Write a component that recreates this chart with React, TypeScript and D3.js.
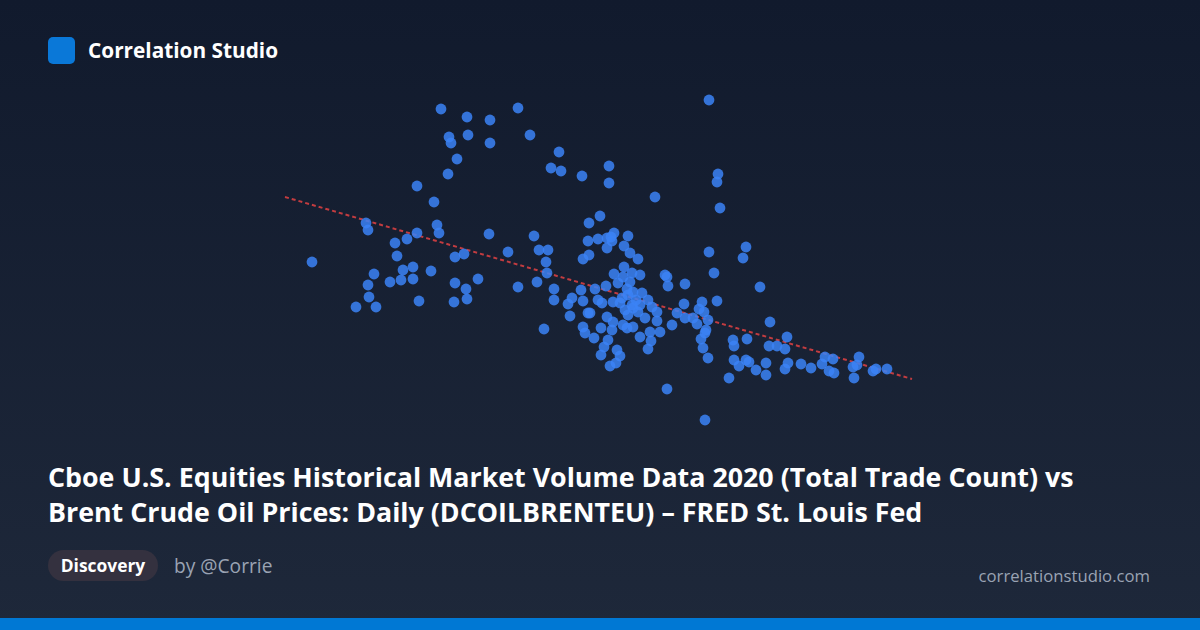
import React from "react";
import * as d3 from "d3";

// Brent crude price (USD/bbl)
const brentPrice: number[] = [
  25.6, 26.4, 26.6, 26.3, 23.2, 24.9, 18.1, 18.3, 25.2, 25.4, 23.2, 22.2, 21.0, 21.2, 12.7,
  28.2, 30.5, 33.3, 28.3, 30.5, 34.5, 37.4, 27.2, 36.6, 37.6, 39.7, 42.4, 42.4, 41.5, 40.4,
  30.4, 34.9, 40.3, 41.3, 42.2, 42.2, 32.3, 35.4, 36.3, 40.4, 27.0, 27.9, 39.8, 36.1, 52.4,
  53.3, 53.2, 47.0, 53.5, 42.9, 42.6, 42.7, 44.3, 43.9, 44.5, 45.3, 52.4, 56.1, 55.8,
  18.9, 18.3, 18.4, 17.1, 19.1, 20.5, 21.6, 21.8, 22.8, 22.8, 24.6, 23.4, 27.0, 26.9, 28.1,
  29.3, 28.2, 33.3, 35.2, 36.2, 36.9, 36.9, 39.6, 38.7, 38.3, 39.8, 38.5, 40.3, 35.9, 39.8, 40.0,
  43.9, 42.9, 43.8, 44.7, 45.5, 48.0, 48.3, 48.2, 50.0, 42.1, 41.0, 43.3, 44.2, 44.8, 45.7,
  44.5, 41.3, 41.7, 42.8, 43.5, 46.3, 46.7, 47.2, 44.8, 45.3, 44.3, 46.0, 47.2, 40.5, 42.2,
  42.8, 43.8, 44.8, 40.9, 41.6, 42.7, 44.2, 46.5, 47.5, 45.5, 46.6, 48.7, 49.2, 49.9, 50.0,
  42.3, 41.9, 43.2, 41.6, 43.5, 42.5, 43.1, 46.3, 44.3, 45.1, 44.7, 43.7, 45.5, 44.0,
  52.9, 57.5, 51.7, 53.2, 51.4, 51.9, 50.8, 52.3, 51.2, 52.1, 52.0, 51.6, 51.8, 52.3, 58.5,
  54.8, 54.9, 56.2, 58.4, 59.2, 60.0, 60.2, 54.9, 55.4, 56.1, 56.4, 57.1, 58.1, 58.1, 60.3,
  60.0, 54.4, 52.0, 61.6, 62.6, 63.7, 64.0, 64.8, 64.4, 64.9, 67.4, 67.2, 66.8, 66.9, 68.8,
  69.1, 70.2, 48.2,
];

// Cboe total trade count (millions)
const tradeCount: number[] = [
  39.1, 36.3, 35.7, 32.6, 31.4, 29.8, 27.7, 27.0, 27.5, 26.7, 26.7, 26.1, 25.7, 24.4, 23.8,
  38.3, 38.0, 39.2, 36.5, 35.7, 36.5, 34.8, 34.1, 33.2, 32.9, 32.4, 33.4, 31.7, 28.4, 27.7,
  26.6, 26.4, 25.9, 26.1, 26.2, 25.2, 24.8, 25.0, 25.0, 24.5, 24.3, 24.6, 24.1, 23.8, 40.0,
  32.6, 31.8, 30.3, 29.2, 26.7, 26.3, 25.9, 26.4, 25.4, 24.7, 24.1, 24.8, 25.3, 24.2,
  22.6, 21.5, 20.3, 19.3, 19.3, 21.8, 22.0, 23.0, 23.3, 22.1, 22.9, 19.9, 21.7, 19.8, 21.1,
  22.1, 20.1, 21.3, 21.8, 22.7, 21.1, 20.0, 21.0, 20.2, 19.6, 19.9, 18.4, 18.7, 17.1, 17.3, 16.7,
  23.3, 22.6, 22.3, 22.7, 22.5, 22.5, 21.4, 22.3, 21.6, 21.4, 21.1, 21.7, 21.1, 20.8, 20.7,
  21.8, 20.0, 19.7, 19.8, 19.7, 20.0, 19.3, 18.8, 19.2, 18.8, 18.5, 18.2, 17.9, 18.7, 18.3,
  17.8, 17.5, 17.3, 16.2, 17.2, 17.0, 17.2, 16.8, 16.8, 16.3, 15.9, 17.5, 18.7, 19.6, 18.2,
  16.0, 15.3, 15.0, 14.5, 14.4, 13.4, 13.7, 15.1, 20.5, 20.0, 19.5, 20.2, 19.5, 19.0,
  22.7, 21.3, 19.8, 19.9, 19.1, 18.8, 18.2, 18.0, 17.6, 17.0, 16.7, 16.1, 15.2, 14.2, 17.8,
  16.0, 15.4, 16.1, 15.4, 15.4, 15.1, 16.3, 14.0, 13.4, 14.0, 13.8, 13.0, 13.7, 12.5, 13.7,
  13.1, 12.2, 8.0, 13.6, 13.2, 13.6, 14.3, 14.1, 12.9, 12.7, 14.3, 13.5, 13.3, 12.2, 12.9,
  13.1, 13.1, 11.1,
];

// Fitted trend line end points (price, trade count)
const trendPrice: number[] = [10, 72.7];
const trendCount: number[] = [30.3, 12.1];

const xDomain: [number, number] = [10, 72.7];
const yDomain: [number, number] = [0, 40];

const titleLines = [
  "Cboe U.S. Equities Historical Market Volume Data 2020 (Total Trade Count) vs",
  "Brent Crude Oil Prices: Daily (DCOILBRENTEU) – FRED St. Louis Fed",
];

export default function App() {
  const W = 1200;
  const H = 630;
  const x = d3.scaleLinear().domain(xDomain).range([285, 912]);
  const y = d3.scaleLinear().domain(yDomain).range([500, 100]);

  const pts = brentPrice.map((p, i) => ({ p, c: tradeCount[i] }));
  const trend = trendPrice.map((p, i) => ({ p, c: trendCount[i] }));
  const line = d3
    .line<{ p: number; c: number }>()
    .x((d) => x(d.p))
    .y((d) => y(d.c));

  const font = "'Open Sans', 'Noto Sans', sans-serif";

  return (
    <svg
      width={W}
      height={H}
      viewBox={`0 0 ${W} ${H}`}
      style={{ position: "absolute", top: 0, left: 0, display: "block" }}
    >
      <defs>
        <linearGradient id="bg" x1="0" y1="0" x2="0" y2="1">
          <stop offset="0%" stopColor="#111a2d" />
          <stop offset="100%" stopColor="#1e283a" />
        </linearGradient>
      </defs>
      <rect x={0} y={0} width={W} height={H} fill="url(#bg)" />

      {/* header */}
      <rect x={48} y={37} width={27} height={27} rx={5} fill="#0a78d8" />
      <text x={88} y={57.5} fill="#ffffff" fontFamily={font} fontWeight={700} fontSize={20.8}>
        Correlation Studio
      </text>

      {/* trend */}
      <path
        d={line(trend) || ""}
        fill="none"
        stroke="#ef4444"
        strokeOpacity={0.8}
        strokeWidth={2}
        strokeDasharray="4 3"
      />

      {/* points */}
      {pts.map((d, i) => (
        <circle key={i} cx={x(d.p)} cy={y(d.c)} r={5.4} fill="#3b82f6" fillOpacity={0.85} />
      ))}

      {/* title */}
      {titleLines.map((t, i) => (
        <text
          key={i}
          x={48}
          y={487 + i * 35}
          fill="#ffffff"
          fontFamily={font}
          fontWeight={700}
          fontSize={26.8}
        >
          {t}
        </text>
      ))}

      {/* footer */}
      <rect x={48} y={550} width={110} height={31} rx={15.5} fill="#34313f" />
      <text x={103} y={572} textAnchor="middle" fill="#ffffff" fontFamily={font} fontWeight={700} fontSize={17.4}>
        Discovery
      </text>
      <text x={174} y={573} fill="#9aa3b3" fontFamily={font} fontSize={19.2}>
        by @Corrie
      </text>
      <text x={1150} y={582} textAnchor="end" fill="#9aa3b3" fontFamily={font} fontSize={16.7}>
        correlationstudio.com
      </text>
      <rect x={0} y={618} width={W} height={12} fill="#0078d4" />
    </svg>
  );
}
